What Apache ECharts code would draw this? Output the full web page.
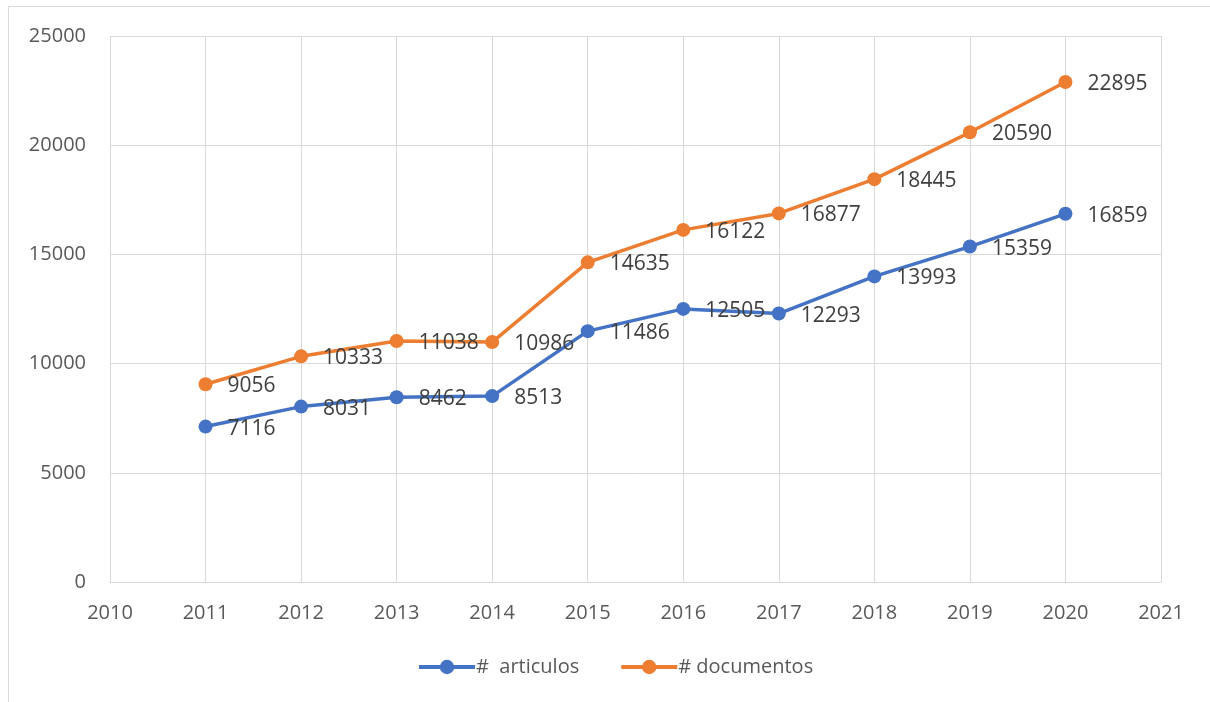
<!DOCTYPE html>
<html><head><meta charset="utf-8">
<script src="https://cdn.jsdelivr.net/npm/echarts@6/dist/echarts.min.js"></script>
<style>html,body{margin:0;padding:0;background:#fff}#c{width:1210px;height:702px}</style>
</head><body><div id="c"></div>
<script>
const years = [2011, 2012, 2013, 2014, 2015, 2016, 2017, 2018, 2019, 2020];
const articulos = [7116, 8031, 8462, 8513, 11486, 12505, 12293, 13993, 15359, 16859];
const documentos = [9056, 10333, 11038, 10986, 14635, 16122, 16877, 18445, 20590, 22895];
const seriesNames = ['#  articulos', '# documentos'];

const chart = echarts.init(document.getElementById('c'));
const font = 'Open Sans';
function mk(name, vals, color) {
  return {
    name: name, type: 'line',
    data: years.map((y, i) => [y, vals[i]]),
    symbol: 'circle', symbolSize: 14,
    lineStyle: { width: 3.5, color: color },
    itemStyle: { color: color },
    label: { show: true, position: 'right', distance: 15, offset: [0, 2], color: '#404040', fontSize: 21, fontFamily: font },
    z: 3
  };
}
chart.setOption({
  animation: false,
  graphic: [{ type: 'rect', shape: { x: 8.5, y: 6.5, width: 1220, height: 720 }, style: { fill: 'none', stroke: '#d9d9d9', lineWidth: 1 } }],
  grid: { left: 110, right: 49, top: 36, bottom: 120 },
  xAxis: {
    type: 'value', min: 2010, max: 2021, interval: 1,
    axisLine: { show: true, lineStyle: { color: '#d9d9d9', width: 1 } },
    axisTick: { show: false },
    splitLine: { show: true, lineStyle: { color: '#d9d9d9', width: 1 } },
    axisLabel: { color: '#595959', fontSize: 20, fontFamily: font, margin: 21, formatter: v => String(v) }
  },
  yAxis: {
    type: 'value', min: 0, max: 25000, interval: 5000,
    axisLine: { show: false }, axisTick: { show: false },
    splitLine: { show: true, lineStyle: { color: '#d9d9d9', width: 1 } },
    axisLabel: { color: '#595959', fontSize: 20, fontFamily: font, margin: 24, formatter: v => String(v) }
  },
  legend: {
    bottom: 20, left: 412, itemWidth: 56, itemHeight: 18, itemGap: 40,
    lineStyle: { width: 4 },
    textStyle: { color: '#595959', fontSize: 20, fontFamily: font, padding: [0,0,0,-4] },
    data: seriesNames
  },
  series: [mk(seriesNames[0], articulos, '#4472C4'), mk(seriesNames[1], documentos, '#ED7D31')]
});
</script></body></html>
